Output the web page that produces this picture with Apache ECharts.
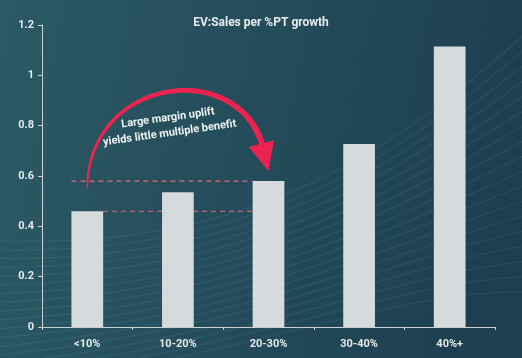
<!DOCTYPE html>
<html><head><meta charset="utf-8">
<script src="https://cdn.jsdelivr.net/npm/echarts@6/dist/echarts.min.js"></script>
<style>html,body{margin:0;padding:0;background:#244f5c}#c{width:522px;height:358px}</style>
</head><body><div id="c"></div>
<script>
const categories = ['<10%', '10-20%', '20-30%', '30-40%', '40%+'];
const values = [0.46, 0.535, 0.58, 0.727, 1.115];
const yTicks = [0, 0.2, 0.4, 0.6, 0.8, 1, 1.2];
const titleText = 'EV:Sales per %PT growth';
const noteLines = ['Large margin uplift', 'yields little multiple benefit'];
const refHigh = values[2];
const refLow = values[0];

const FONT = 'Roboto, "Open Sans", sans-serif';
const chart = echarts.init(document.getElementById('c'));

function baseOption() {
  return {
    animation: false,
    backgroundColor: {
      type: 'linear', x: 0, y: 0, x2: 1, y2: 0.3,
      colorStops: [{offset: 0, color: '#2b5a64'}, {offset: 1, color: '#1d3f50'}]
    },
    title: {
      text: titleText, left: 'center', top: 12,
      textStyle: {color: '#e6ebee', fontSize: 12, fontWeight: 'bold', fontFamily: FONT}
    },
    grid: {left: 42, right: 27, top: 25, bottom: 31},
    xAxis: {
      type: 'category', data: categories,
      axisLine: {lineStyle: {color: '#c9d1d5', width: 1}},
      axisTick: {show: true, length: 3, lineStyle: {color: '#c9d1d5'}},
      axisLabel: {color: '#e3e8ea', fontSize: 11, fontFamily: FONT, fontWeight: 'bold', margin: 12}
    },
    yAxis: {
      type: 'value', min: 0, max: 1.2, interval: 0.2,
      axisLine: {show: true, lineStyle: {color: '#c9d1d5', width: 1}},
      axisTick: {show: true, length: 4, lineStyle: {color: '#c9d1d5'}},
      splitLine: {show: false},
      axisLabel: {
        color: '#e3e8ea', fontSize: 11, fontFamily: FONT, fontWeight: 'bold', margin: 8,
        formatter: v => {
          const t = yTicks.find(k => Math.abs(k - v) < 1e-9);
          return t === undefined ? '' : String(+t.toFixed(1));
        }
      }
    },
    series: [{
      type: 'bar', data: values, barWidth: '35%', z: 5,
      itemStyle: {color: '#d5dadd'}
    }]
  };
}

chart.setOption(baseOption());

const cx = i => chart.convertToPixel({xAxisIndex: 0}, categories[0]) + i * (chart.convertToPixel({xAxisIndex: 0}, categories[1]) - chart.convertToPixel({xAxisIndex: 0}, categories[0]));
const vy = v => chart.convertToPixel({yAxisIndex: 0}, v);
const band = cx(1) - cx(0);
const halfBar = band * 0.35 / 2;

// background decorative curves
const deco = [];
for (let k = 0; k < 18; k++) {
  deco.push({
    type: 'bezierCurve', silent: true, z: -10,
    shape: {x1: -20, y1: 240 + k * 9, cpx1: 250, cpy1: 255 + k * 6, cpx2: 400, cpy2: 150 + k * 8, x2: 540, y2: 20 + k * 16},
    style: {stroke: 'rgba(140,200,205,0.10)', lineWidth: 1.3, fill: null}
  });
}

// tapered arrow along cubic bezier
const P0 = [cx(0), vy(0.552)], P1 = [cx(0.01), vy(0.99)], P2 = [cx(1.63), vy(1.07)], P3 = [cx(1.93), vy(0.727)];
function bz(t, a, b, c, d) { const u = 1 - t; return u*u*u*a + 3*u*u*t*b + 3*u*t*t*c + t*t*t*d; }
const left = [], right = [];
const N = 60;
for (let i = 0; i <= N; i++) {
  const t = i / N;
  const x = bz(t, P0[0], P1[0], P2[0], P3[0]), y = bz(t, P0[1], P1[1], P2[1], P3[1]);
  const t2 = Math.min(1, t + 0.001), t1 = Math.max(0, t - 0.001);
  const dx = bz(t2, P0[0], P1[0], P2[0], P3[0]) - bz(t1, P0[0], P1[0], P2[0], P3[0]);
  const dy = bz(t2, P0[1], P1[1], P2[1], P3[1]) - bz(t1, P0[1], P1[1], P2[1], P3[1]);
  const L = Math.hypot(dx, dy) || 1;
  const w = 0.6 + 2.4 * Math.sqrt(t);
  const nx = -dy / L * w, ny = dx / L * w;
  left.push([x + nx, y + ny]);
  right.push([x - nx, y - ny]);
}
const arrowBody = left.concat(right.reverse());
const head = [[cx(1.78), vy(0.715)], [cx(2.06), vy(0.742)], [cx(2.0), vy(0.62)]];

// dashed reference lines
const dash = {stroke: '#e8647c', lineWidth: 1.2, lineDash: [5, 4]};
const graphics = deco.concat([
  {type: 'line', silent: true, z: 3, shape: {x1: cx(0) - halfBar, y1: vy(refHigh), x2: cx(2) - halfBar, y2: vy(refHigh)}, style: dash},
  {type: 'line', silent: true, z: 3, shape: {x1: cx(0) + halfBar, y1: vy(refLow), x2: cx(2) - halfBar, y2: vy(refLow)}, style: dash},
  {type: 'polygon', silent: true, z: 20, shape: {points: arrowBody}, style: {fill: '#ec2350'}},
  {type: 'polygon', silent: true, z: 20, shape: {points: head}, style: {fill: '#ec2350'}},
  {type: 'text', silent: true, z: 20, x: cx(0.89), y: vy(0.83), rotation: 8 * Math.PI / 180,
    style: {text: noteLines[0], fill: '#eef2f3', font: 'bold 11px ' + FONT, textAlign: 'center', textVerticalAlign: 'middle'}},
  {type: 'text', silent: true, z: 20, x: cx(0.91), y: vy(0.77), rotation: 8 * Math.PI / 180,
    style: {text: noteLines[1], fill: '#eef2f3', font: 'bold 11px ' + FONT, textAlign: 'center', textVerticalAlign: 'middle'}}
]);
chart.setOption({graphic: graphics});
</script>
</body></html>
